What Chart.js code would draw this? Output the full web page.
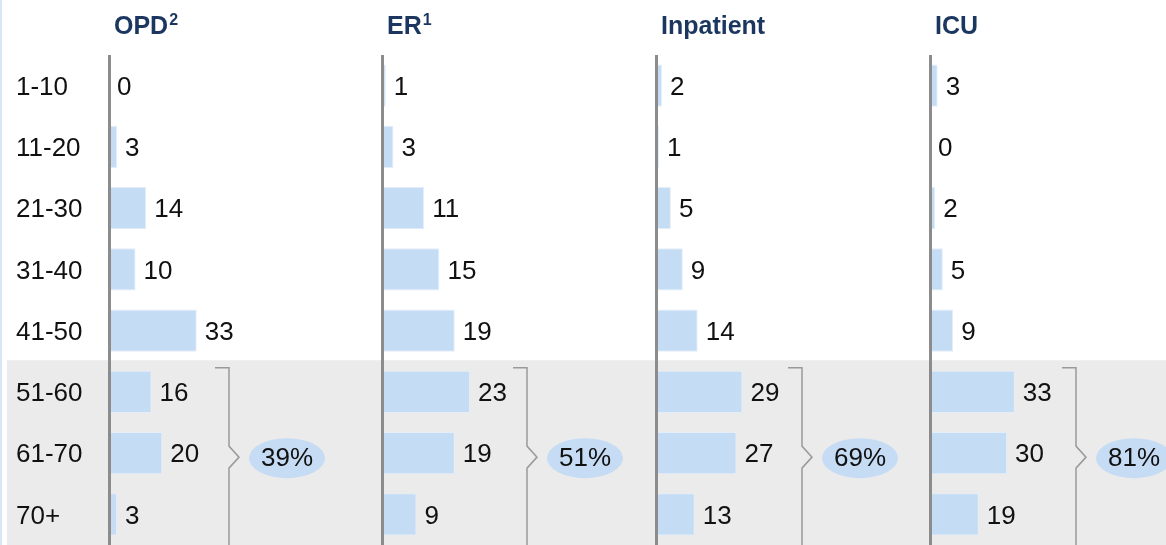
<!DOCTYPE html>
<html>
<head>
<meta charset="utf-8">
<script src="https://cdn.jsdelivr.net/npm/chart.js@4/dist/chart.umd.min.js"></script>
<style>
  html, body { margin: 0; padding: 0; background: #fff; }
  #wrap { position: relative; width: 1166px; height: 545px; }
</style>
</head>
<body>
<div id="wrap"><canvas id="c"></canvas></div>
<script>
// ---- data ----
const ageGroups = ['1-10', '11-20', '21-30', '31-40', '41-50', '51-60', '61-70', '70+'];
const opd = [0, 3, 14, 10, 33, 16, 20, 3];
const er = [1, 3, 11, 15, 19, 23, 19, 9];
const inpatient = [2, 1, 5, 9, 14, 29, 27, 13];
const icu = [3, 0, 2, 5, 9, 33, 30, 19];
const panelTitles = ['OPD', 'ER', 'Inpatient', 'ICU'];
const titleNotes = ['2', '1', '', ''];
const olderShareLabels = ['39%', '51%', '69%', '81%'];
const highlightStart = '51-60';

// ---- layout / style settings ----
const FONT = "'Liberation Sans', Arial, Helvetica, sans-serif";
const W = 1166, H = 545;
const CHART_LEFT = 108, CHART_TOP = 55;
const panelZero = [109, 382, 656, 930];      // pixel of value 0 per panel axis
const pxPerUnit = [2.66, 3.83, 2.98, 2.57];  // horizontal scale per panel
const bracketOffset = [120, 145, 146, 146];
const BAR_COLOR = '#c5dcf5';
const AXIS_COLOR = '#8c8c8c';

const series = [opd, er, inpatient, icu];

const xScales = {};
series.forEach((s, i) => {
  xScales['x' + i] = {
    type: 'linear',
    position: 'bottom',
    min: (CHART_LEFT - panelZero[i]) / pxPerUnit[i],
    max: (W - panelZero[i]) / pxPerUnit[i],
    afterBuildTicks: (sc) => { sc.ticks = [{ value: 0 }]; },
    afterFit: (sc) => { sc.height = 0; sc.paddingLeft = 0; sc.paddingRight = 0; sc.paddingTop = 0; sc.paddingBottom = 0; },
    ticks: { display: false },
    border: { display: false },
    grid: { display: true, drawTicks: false, color: AXIS_COLOR, lineWidth: 3, z: 1 }
  };
});

const decorPlugin = {
  id: 'decor',
  beforeDraw(chart) {
    const ctx = chart.ctx;
    const y = chart.scales.y;
    const idx = ageGroups.indexOf(highlightStart);
    const yStart = (y.getPixelForValue(idx - 1) + y.getPixelForValue(idx)) / 2 - 1;
    ctx.save();
    ctx.fillStyle = '#ffffff';
    ctx.fillRect(0, 0, W, H);
    ctx.fillStyle = '#ebebeb';
    ctx.fillRect(7, yStart, W - 7, H - yStart);
    ctx.fillStyle = '#d9e7f5';
    ctx.fillRect(0, 0, 2, H);
    ctx.restore();
  },
  afterDatasetsDraw(chart) {
    const ctx = chart.ctx;
    ctx.save();
    ctx.font = '26px ' + FONT;
    ctx.fillStyle = '#111111';
    ctx.textAlign = 'left';
    ctx.textBaseline = 'middle';
    chart.data.datasets.forEach((ds, di) => {
      const meta = chart.getDatasetMeta(di);
      meta.data.forEach((el, i) => {
        ctx.fillText(String(ds.data[i]), el.x + 8, el.y + 2);
      });
    });
    ctx.restore();
  },
  afterDraw(chart) {
    const ctx = chart.ctx;
    const y = chart.scales.y;
    const idx = ageGroups.indexOf(highlightStart);
    ctx.save();
    // titles
    ctx.fillStyle = '#1b365f';
    ctx.textAlign = 'left';
    ctx.textBaseline = 'alphabetic';
    panelTitles.forEach((t, i) => {
      const x0 = chart.scales['x' + i].getPixelForValue(0);
      ctx.font = 'bold 25px ' + FONT;
      ctx.fillText(t, x0 + 5, 34);
      if (titleNotes[i]) {
        const w = ctx.measureText(t).width;
        ctx.font = 'bold 16px ' + FONT;
        ctx.fillText(titleNotes[i], x0 + 5 + w + 1, 25);
      }
    });
    // brackets + ellipses
    series.forEach((s, i) => {
      const x0 = chart.scales['x' + i].getPixelForValue(0);
      const bx = x0 + bracketOffset[i];
      const firstBar = chart.getDatasetMeta(i).data[idx];
      const top = firstBar.y - firstBar.height / 2 - 3;
      const mid = y.getPixelForValue(idx + 1) + 4;
      ctx.strokeStyle = '#9a9a9a';
      ctx.lineWidth = 1.5;
      ctx.beginPath();
      ctx.moveTo(bx - 14, top);
      ctx.lineTo(bx, top);
      ctx.lineTo(bx, mid - 11);
      ctx.lineTo(bx + 10, mid);
      ctx.lineTo(bx, mid + 11);
      ctx.lineTo(bx, H + 5);
      ctx.stroke();
      const cx = bx + 58;
      ctx.fillStyle = '#c6dcf5';
      ctx.beginPath();
      ctx.ellipse(cx, mid + 1, 38, 20, 0, 0, Math.PI * 2);
      ctx.fill();
      ctx.fillStyle = '#111111';
      ctx.font = '26px ' + FONT;
      ctx.textAlign = 'center';
      ctx.textBaseline = 'middle';
      ctx.fillText(olderShareLabels[i], cx, mid + 2);
    });
    ctx.restore();
  }
};

new Chart(document.getElementById('c'), {
  type: 'bar',
  data: {
    labels: ageGroups,
    datasets: series.map((s, i) => ({
      label: panelTitles[i],
      data: s,
      xAxisID: 'x' + i,
      yAxisID: 'y',
      grouped: false,
      backgroundColor: BAR_COLOR,
      borderColor: '#e4eefa',
      borderWidth: 1,
      borderSkipped: 'start',
      categoryPercentage: 1,
      barPercentage: 0.69
    }))
  },
  options: {
    indexAxis: 'y',
    responsive: true,
    maintainAspectRatio: false,
    animation: false,
    devicePixelRatio: 1,
    layout: { padding: { left: 16, top: CHART_TOP, right: 0, bottom: 0 } },
    plugins: { legend: { display: false }, tooltip: { enabled: false }, title: { display: false } },
    scales: Object.assign({
      y: {
        type: 'category',
        position: 'left',
        offset: true,
        afterFit: (sc) => { sc.width = CHART_LEFT - 16; sc.paddingTop = 0; sc.paddingBottom = 0; },
        grid: { display: false },
        border: { display: false },
        ticks: { crossAlign: 'far', padding: 0, labelOffset: 2, color: '#111111', font: { size: 26, family: FONT } }
      }
    }, xScales)
  },
  plugins: [decorPlugin]
});
</script>
</body>
</html>
